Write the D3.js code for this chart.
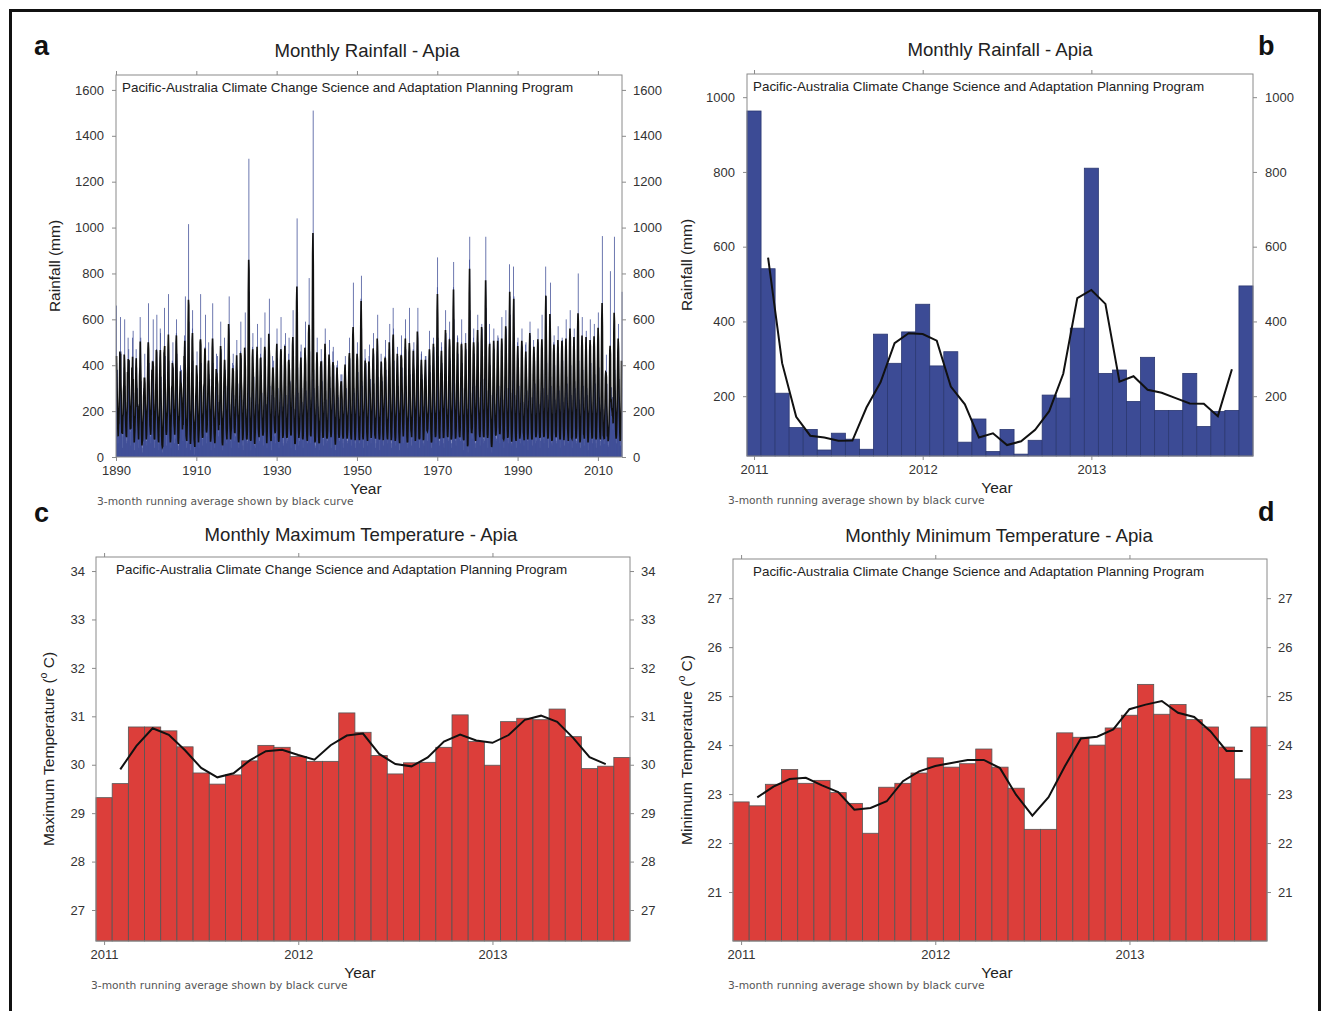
<!DOCTYPE html>
<html>
<head>
<meta charset="utf-8">
<script src="https://cdnjs.cloudflare.com/ajax/libs/d3/7.8.5/d3.min.js"></script>
<style>
  body { margin: 0; background: #fff; }
</style>
</head>
<body>
<script>
// ---- data ----
const firstYear = 1890;

// monthly rainfall at Apia, Jan..Dec, one row per year
const rainfall1890to2010 = [
  660,410,250,380,190,60,120,90,210,150,330,440,
  610,280,460,230,120,150,40,170,90,260,210,390,
  350,600,310,180,240,90,60,130,70,310,280,520,
  290,470,380,420,160,110,200,50,140,180,350,300,
  520,240,550,190,280,70,30,90,160,120,270,470,
  430,390,210,300,140,230,80,40,110,250,190,610,
  380,520,330,160,90,40,20,140,60,210,300,270,
  310,450,270,240,190,110,70,50,180,290,240,500,
  670,330,410,280,120,200,90,60,140,170,360,420,
  360,290,600,350,230,80,40,120,70,230,280,310,
  470,620,280,210,170,140,60,30,100,260,190,560,
  540,300,350,150,100,40,20,70,50,140,330,380,
  650,360,440,230,180,110,50,130,160,200,250,470,
  710,420,280,310,150,60,90,40,120,270,210,420,
  310,500,390,260,210,170,60,150,80,190,360,540,
  600,450,300,340,130,50,30,90,140,230,180,390,
  400,330,250,380,260,120,170,70,200,150,310,480,
  530,290,700,240,150,90,40,110,60,210,260,450,
  1015,590,380,270,200,60,30,80,130,170,330,560,
  640,420,300,210,90,130,10,50,70,230,200,360,
  380,460,270,330,140,60,90,40,150,180,300,490,
  710,340,410,240,190,80,50,120,100,260,220,430,
  320,480,620,290,130,170,60,90,200,140,310,400,
  500,360,250,340,210,70,100,30,120,230,280,470,
  670,410,320,200,150,120,40,80,60,190,350,450,
  350,300,440,270,240,90,150,110,180,130,250,390,
  590,470,290,200,110,50,30,70,140,260,190,520,
  420,330,380,310,170,140,60,90,80,210,340,480,
  560,700,350,230,140,70,120,40,160,170,280,410,
  300,450,400,270,220,100,70,150,90,250,210,440,
  510,380,260,320,130,60,40,90,110,200,300,460,
  590,300,430,250,190,140,50,30,170,160,270,420,
  380,630,310,210,160,80,100,60,70,230,320,560,
  1300,720,420,260,140,70,30,110,90,190,280,480,
  540,390,300,350,120,50,80,40,150,210,230,420,
  400,460,580,230,200,110,60,130,70,260,310,450,
  520,330,290,280,150,90,140,50,100,180,250,410,
  630,400,360,200,230,60,40,80,160,220,340,470,
  450,690,320,310,130,120,70,30,110,270,200,440,
  380,350,420,260,180,90,150,100,60,190,300,490,
  560,430,250,300,110,70,40,90,130,240,220,430,
  610,370,400,220,200,140,60,50,170,160,320,490,
  420,540,310,270,130,60,110,80,70,230,270,450,
  520,300,380,330,240,100,40,140,120,200,350,470,
  640,460,270,210,150,80,60,30,90,260,300,680,
  1040,510,390,280,170,50,130,70,110,190,250,460,
  490,350,300,240,120,90,40,100,150,230,280,430,
  410,590,330,290,200,130,70,60,80,170,310,520,
  780,430,460,250,140,60,90,120,170,260,340,800,
  1510,620,380,300,160,100,50,40,130,210,230,450,
  520,400,310,220,180,70,30,90,60,150,290,410,
  470,360,420,330,140,120,80,50,140,240,200,440,
  560,480,290,250,100,60,110,70,90,190,320,430,
  400,510,350,300,210,90,40,130,150,230,260,460,
  480,300,400,230,160,140,60,30,70,170,310,400,
  350,420,270,260,120,80,100,70,110,200,230,360,
  330,290,360,210,190,60,40,140,90,250,280,390,
  440,380,250,300,130,110,70,60,160,150,270,370,
  410,520,430,230,170,90,50,100,80,220,340,480,
  760,460,300,280,140,60,120,40,130,260,290,450,
  500,400,370,220,210,100,60,90,70,190,300,690,
  790,560,330,310,150,80,40,110,160,230,250,470,
  430,360,410,250,120,140,70,50,90,180,320,440,
  490,300,280,340,200,60,110,80,130,240,270,430,
  540,450,320,200,160,90,40,140,60,210,300,460,
  470,620,350,270,110,130,80,30,120,170,280,450,
  390,410,290,330,190,70,50,100,150,250,330,440,
  510,350,380,220,140,110,90,60,80,200,260,470,
  450,580,300,290,230,60,40,120,110,190,310,650,
  560,390,420,250,130,90,70,50,140,230,240,430,
  480,440,270,310,170,120,30,80,70,180,330,450,
  530,350,390,230,200,60,100,110,160,260,290,480,
  600,470,310,280,120,90,60,40,100,210,250,460,
  650,380,360,210,160,140,50,130,80,170,320,470,
  420,500,290,330,190,70,80,60,140,250,300,490,
  500,650,400,240,110,100,40,90,120,200,270,450,
  460,360,340,300,220,60,110,50,80,230,310,440,
  390,440,280,260,150,130,70,140,160,180,260,460,
  550,400,370,220,170,80,40,70,100,260,340,480,
  520,480,300,310,130,110,90,60,130,210,290,740,
  870,520,440,280,190,70,50,120,90,240,320,500,
  480,410,350,330,140,150,60,40,160,190,360,480,
  640,540,300,250,210,90,110,80,70,230,280,520,
  590,430,420,280,130,60,40,140,120,260,330,740,
  850,600,370,320,180,120,70,50,150,200,300,530,
  520,450,290,240,160,80,100,90,70,230,350,500,
  600,380,410,300,120,140,30,60,130,180,270,480,
  540,470,340,230,210,70,50,20,90,250,310,860,
  960,640,390,280,150,100,130,80,110,200,290,520,
  560,420,450,310,180,60,40,110,160,240,330,540,
  620,500,330,260,130,150,90,50,120,210,360,560,
  580,560,400,340,200,80,60,130,70,270,300,700,
  960,650,450,290,140,120,40,90,160,230,340,580,
  500,400,320,270,110,60,20,50,100,190,280,490,
  560,470,380,230,170,90,130,70,80,240,310,470,
  530,520,300,310,200,140,60,100,150,200,270,500,
  610,440,420,250,130,70,40,120,90,260,350,510,
  640,560,360,300,160,110,80,60,130,230,300,840,
  700,620,400,280,190,60,50,90,140,210,330,830,
  700,540,450,270,140,130,70,40,100,250,290,500,
  520,430,330,310,170,80,100,60,120,190,320,480,
  560,480,400,240,120,150,50,90,80,230,270,490,
  500,390,350,290,210,70,30,130,150,200,340,500,
  590,530,300,260,140,100,80,50,110,260,290,510,
  480,450,420,320,180,60,110,90,70,180,310,480,
  560,500,340,230,130,140,40,70,160,240,280,500,
  620,420,380,300,190,80,60,120,100,210,350,830,
  700,580,410,270,150,110,90,40,130,250,300,520,
  590,760,350,310,170,60,50,100,80,190,330,500,
  530,440,400,250,120,130,70,60,140,230,290,480,
  570,480,310,290,200,90,40,110,90,200,360,490,
  520,510,420,240,140,70,100,50,150,260,280,500,
  600,450,350,320,170,150,60,80,70,210,330,510,
  640,530,400,270,130,80,40,120,110,250,310,520,
  560,490,330,300,210,110,70,60,140,190,340,530,
  800,550,420,250,150,60,90,40,100,230,300,510,
  610,470,380,310,120,130,50,110,80,260,320,500,
  550,520,300,270,190,70,30,90,150,200,290,490,
  600,440,410,230,140,100,80,60,120,240,350,500,
  580,500,360,320,170,60,40,130,90,210,310,520,
  630,540,390,260,150,140,70,50,110,230,330,510
];

// Jan 2011 .. Dec 2013 (panel b)
const rainfall2011to2013 = [
  963,541,208,116,111,56,101,85,58,366,288,372,
  446,281,319,77,139,52,111,45,82,203,195,382,
  810,261,270,186,304,162,162,261,119,159,162,495
];

const rainfall2014to2015 = [
  960,430,380,290,160,80,60,100,130,220,310,470,
  580,500,340,260,180,90,50,70,120,240,300,720
];

// Jan 2011 .. Sep 2013, degrees C
const maxTemp2011 = [
  29.32,29.61,30.78,30.78,30.70,30.37,29.83,29.60,29.79,30.08,30.40,30.36,
  30.17,30.07,30.07,31.07,30.67,30.19,29.81,30.04,30.05,30.36,31.03,30.48,
  29.99,30.89,30.96,30.93,31.15,30.58,29.92,29.97,30.15
];
const minTemp2011 = [
  22.84,22.76,23.20,23.50,23.22,23.28,23.03,22.81,22.20,23.14,23.22,23.43,
  23.74,23.55,23.62,23.92,23.55,23.12,22.28,22.28,24.25,24.16,24.00,24.35,
  24.61,25.24,24.63,24.83,24.52,24.37,23.96,23.31,24.37
];

const rainTicksLong = [0, 200, 400, 600, 800, 1000, 1200, 1400, 1600];
const rainTicksShort = [200, 400, 600, 800, 1000];
const maxTempTicks = [27, 28, 29, 30, 31, 32, 33, 34];
const minTempTicks = [21, 22, 23, 24, 25, 26, 27];
const yearTicksLong = [1890, 1910, 1930, 1950, 1970, 1990, 2010];
const yearLabelsShort = ["2011", "2012", "2013"];

const programText = "Pacific-Australia Climate Change Science and Adaptation Planning Program";
const footText = "3-month running average shown by black curve";

const rainfallMonthly = rainfall1890to2010.concat(rainfall2011to2013, rainfall2014to2015);

// ---- helpers ----
const sans = "'Liberation Sans', Arial, sans-serif";
const blue = "#3c4b95";
const red = "#dc3e3a";

const svg = d3.select("body").append("svg")
    .attr("width", 1322)
    .attr("height", 1011);

svg.append("rect").attr("width", 1322).attr("height", 1011).attr("fill", "#fff");

// outer black frame
svg.append("rect")
    .attr("x", 10.5).attr("y", 10.5)
    .attr("width", 1309).attr("height", 1010)
    .attr("fill", "none")
    .attr("stroke", "#111")
    .attr("stroke-width", 3);

function runningMean(v) {
    return v.map((d, i) => (i === 0 || i === v.length - 1) ? null : (v[i - 1] + d + v[i + 1]) / 3);
}

function styleAxis(sel) {
    sel.select(".domain").remove();
    sel.selectAll("line").attr("stroke", "#8a8a8a");
    sel.selectAll("text")
        .attr("fill", "#333")
        .style("font-family", sans)
        .style("font-size", "13px");
}

function panel(p) {
    const g = svg.append("g");
    const x = d3.scaleLinear().domain(p.xDomain).range([p.left, p.right]);
    const y = d3.scaleLinear().domain(p.yDomain).range([p.bottom, p.top]);

    p.marks(g, x, y);

    // plot frame
    g.append("rect")
        .attr("x", p.left).attr("y", p.top)
        .attr("width", p.right - p.left).attr("height", p.bottom - p.top)
        .attr("fill", "none")
        .attr("stroke", "#8a8a8a");

    // axes on all four sides
    const yFmt = d3.format("d");
    g.append("g")
        .attr("transform", "translate(" + p.left + ",0)")
        .call(d3.axisLeft(y).tickValues(p.yTicks).tickFormat(yFmt).tickSize(4).tickPadding(p.padL))
        .call(styleAxis);
    g.append("g")
        .attr("transform", "translate(" + p.right + ",0)")
        .call(d3.axisRight(y).tickValues(p.yTicks).tickFormat(yFmt).tickSize(4).tickPadding(p.padR))
        .call(styleAxis);
    g.append("g")
        .attr("transform", "translate(0," + p.bottom + ")")
        .call(d3.axisBottom(x).tickValues(p.xTicks).tickFormat(p.xFormat).tickSize(4).tickPadding(5))
        .call(styleAxis);
    g.append("g")
        .attr("transform", "translate(0," + p.top + ")")
        .call(d3.axisTop(x).tickValues(p.xTicks).tickFormat("").tickSize(4))
        .call(styleAxis);

    // titles and labels
    g.append("text")
        .attr("x", p.titleX).attr("y", p.titleY)
        .attr("text-anchor", "middle")
        .style("font-family", sans).style("font-size", "18.6px")
        .attr("fill", "#222")
        .text(p.title);

    g.append("text")
        .attr("x", p.letterX).attr("y", p.letterY)
        .style("font-family", sans).style("font-size", "27px").style("font-weight", "bold")
        .attr("fill", "#111")
        .text(p.letter);

    g.append("text")
        .attr("x", p.left + p.noteDx).attr("y", p.top + 17)
        .style("font-family", sans).style("font-size", "13.4px")
        .attr("fill", "#222")
        .text(programText);

    g.append("text")
        .attr("x", p.yearX).attr("y", p.bottom + 37)
        .attr("text-anchor", "middle")
        .style("font-family", sans).style("font-size", "15.5px")
        .attr("fill", "#222")
        .text("Year");

    g.append("text")
        .attr("x", p.footX).attr("y", p.bottom + 48)
        .style("font-family", "'DejaVu Sans', sans-serif").style("font-size", "10.7px")
        .attr("fill", "#555")
        .text(footText);

    const yt = g.append("text")
        .attr("transform", "translate(" + p.yTitleX + "," + ((p.top + p.bottom) / 2) + ") rotate(-90)")
        .attr("text-anchor", "middle")
        .attr("dominant-baseline", "middle")
        .style("font-family", sans).style("font-size", "15.5px")
        .attr("fill", "#222");
    if (p.degree) {
        yt.append("tspan").text(p.yTitle + " (");
        yt.append("tspan").attr("dy", -6).style("font-size", "10.5px").text("o");
        yt.append("tspan").attr("dy", 6).text(" C)");
    } else {
        yt.text(p.yTitle);
    }
}

// monthly bars + 3-month running mean for the short records
function monthBars(values, fill, stroke) {
    return function (g, x, y) {
        g.selectAll(null)
            .data(values)
            .join("rect")
            .attr("x", (d, i) => x(i))
            .attr("width", (d, i) => x(i + 1) - x(i))
            .attr("y", d => y(d))
            .attr("height", d => y.range()[0] - y(d))
            .attr("fill", fill)
            .attr("stroke", stroke)
            .attr("stroke-width", 0.8);

        const line = d3.line()
            .defined(d => d != null)
            .x((d, i) => x(i + 0.5))
            .y(d => y(d));
        g.append("path")
            .datum(runningMean(values))
            .attr("d", line)
            .attr("fill", "none")
            .attr("stroke", "#111")
            .attr("stroke-width", 2);
    };
}

const shortTicks = yearLabelsShort.map((d, k) => k * 12 + 0.5);
const shortFormat = (d, k) => yearLabelsShort[k];

// a: full record
panel({
    left: 116, right: 622, top: 75, bottom: 457,
    xDomain: [firstYear, 2016], yDomain: [0, 1665],
    yTicks: rainTicksLong, xTicks: yearTicksLong, xFormat: d3.format("d"),
    padL: 8, padR: 7,
    title: "Monthly Rainfall - Apia", titleX: 367, titleY: 57,
    letter: "a", letterX: 34, letterY: 55,
    yTitle: "Rainfall (mm)", yTitleX: 56,
    noteDx: 6, yearX: 366, footX: 97,
    marks: function (g, x, y) {
        g.selectAll(null)
            .data(rainfallMonthly)
            .join("rect")
            .attr("x", (d, i) => x(firstYear + i / 12))
            .attr("width", 0.75)
            .attr("y", d => y(d))
            .attr("height", d => y(0) - y(d))
            .attr("fill", blue);

        const line = d3.line()
            .defined(d => d != null)
            .x((d, i) => x(firstYear + (i + 0.5) / 12))
            .y(d => y(d));
        g.append("path")
            .datum(runningMean(rainfallMonthly))
            .attr("d", line)
            .attr("fill", "none")
            .attr("stroke", "#111")
            .attr("stroke-width", 1.6);
    }
});

// b: 2011-2013 rainfall
panel({
    left: 747, right: 1253, top: 74, bottom: 456,
    xDomain: [0, rainfall2011to2013.length], yDomain: [40, 1062],
    yTicks: rainTicksShort, xTicks: shortTicks, xFormat: shortFormat,
    padL: 8, padR: 8,
    title: "Monthly Rainfall - Apia", titleX: 1000, titleY: 56,
    letter: "b", letterX: 1258, letterY: 55,
    yTitle: "Rainfall (mm)", yTitleX: 688,
    noteDx: 6, yearX: 997, footX: 728,
    marks: monthBars(rainfall2011to2013, blue, "#2b3872")
});

// c: maximum temperature
panel({
    left: 96, right: 630, top: 557, bottom: 941,
    xDomain: [0, maxTemp2011.length], yDomain: [26.36, 34.29],
    yTicks: maxTempTicks, xTicks: shortTicks, xFormat: shortFormat,
    padL: 7, padR: 7,
    title: "Monthly Maximum Temperature - Apia", titleX: 361, titleY: 541,
    letter: "c", letterX: 34, letterY: 522,
    yTitle: "Maximum Temperature", yTitleX: 50, degree: true,
    noteDx: 20, yearX: 360, footX: 91,
    marks: monthBars(maxTemp2011, red, "#555")
});

// d: minimum temperature
panel({
    left: 733, right: 1267, top: 559, bottom: 941,
    xDomain: [0, minTemp2011.length], yDomain: [20, 27.8],
    yTicks: minTempTicks, xTicks: shortTicks, xFormat: shortFormat,
    padL: 7, padR: 7,
    title: "Monthly Minimum Temperature - Apia", titleX: 999, titleY: 542,
    letter: "d", letterX: 1258, letterY: 521,
    yTitle: "Minimum Temperature", yTitleX: 688, degree: true,
    noteDx: 20, yearX: 997, footX: 728,
    marks: monthBars(minTemp2011, red, "#555")
});
</script>
</body>
</html>
